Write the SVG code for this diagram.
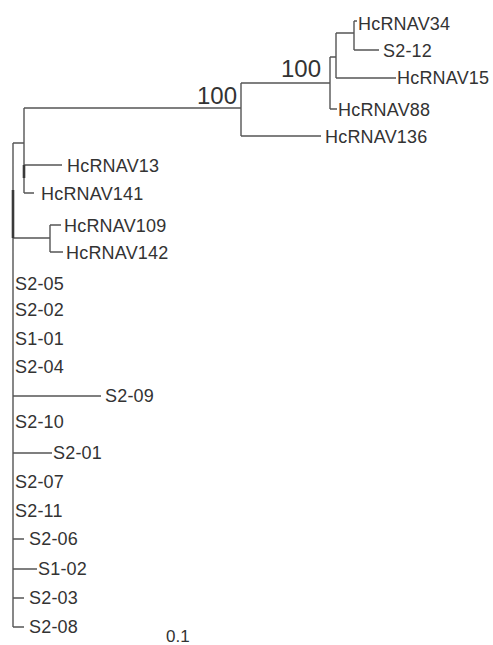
<svg xmlns="http://www.w3.org/2000/svg" width="493" height="645" viewBox="0 0 493 645">
<style>
.ln{fill:none;stroke:#555;stroke-width:1.4}
.tk{fill:none;stroke:#3a3a3a;stroke-width:2.6}
text{font-family:"Liberation Sans",Arial,sans-serif;fill:#333}
.lb{font-size:18px;letter-spacing:0.2px}
.bs{font-size:24px;text-anchor:end}
.sc{font-size:17px}
</style>
<rect width="493" height="645" fill="#fff"/>
<g id="connectors">
<path class="ln" d="M13,143V627M13,143H24M24,108V193M24,108H241M241,83V136M241,83H330M330,57V109M330,57H336M336,33V78M336,33H354M354,21V50M354,21H357M354,50H379M336,78H396M330,109H337M241,136H321M24,165H62M24,193H34M13,238H50M50,225V252M50,225H61M50,252H63M13,396H101M13,453H52M13,539H24M13,569H37M13,598H24M13,627H24"/>
<path class="tk" d="M13,190V238M24,165V178"/>
</g>
<g id="bootstrap1"><text class="bs" x="237" y="104">100</text></g>
<g id="bootstrap2"><text class="bs" x="321" y="77">100</text></g>
<g id="HcRNAV34"><text class="lb" x="358" y="30">HcRNAV34</text></g>
<g id="S2-12"><text class="lb" x="383" y="57">S2-12</text></g>
<g id="HcRNAV15"><text class="lb" x="397" y="84">HcRNAV15</text></g>
<g id="HcRNAV88"><text class="lb" x="338" y="116">HcRNAV88</text></g>
<g id="HcRNAV136"><text class="lb" x="325" y="143">HcRNAV136</text></g>
<g id="HcRNAV13"><text class="lb" x="67" y="172">HcRNAV13</text></g>
<g id="HcRNAV141"><text class="lb" x="41" y="200">HcRNAV141</text></g>
<g id="HcRNAV109"><text class="lb" x="64" y="232">HcRNAV109</text></g>
<g id="HcRNAV142"><text class="lb" x="66" y="259">HcRNAV142</text></g>
<g id="S2-05"><text class="lb" x="15" y="290">S2-05</text></g>
<g id="S2-02"><text class="lb" x="15" y="316">S2-02</text></g>
<g id="S1-01"><text class="lb" x="15" y="345">S1-01</text></g>
<g id="S2-04"><text class="lb" x="15" y="373">S2-04</text></g>
<g id="S2-09"><text class="lb" x="105" y="402">S2-09</text></g>
<g id="S2-10"><text class="lb" x="15" y="428">S2-10</text></g>
<g id="S2-01"><text class="lb" x="53" y="459">S2-01</text></g>
<g id="S2-07"><text class="lb" x="15" y="488">S2-07</text></g>
<g id="S2-11"><text class="lb" x="15" y="517">S2-11</text></g>
<g id="S2-06"><text class="lb" x="29" y="545">S2-06</text></g>
<g id="S1-02"><text class="lb" x="38" y="575">S1-02</text></g>
<g id="S2-03"><text class="lb" x="29" y="604">S2-03</text></g>
<g id="S2-08"><text class="lb" x="29" y="633">S2-08</text></g>
<g id="scale"><text class="sc" x="166" y="642">0.1</text></g>
</svg>
